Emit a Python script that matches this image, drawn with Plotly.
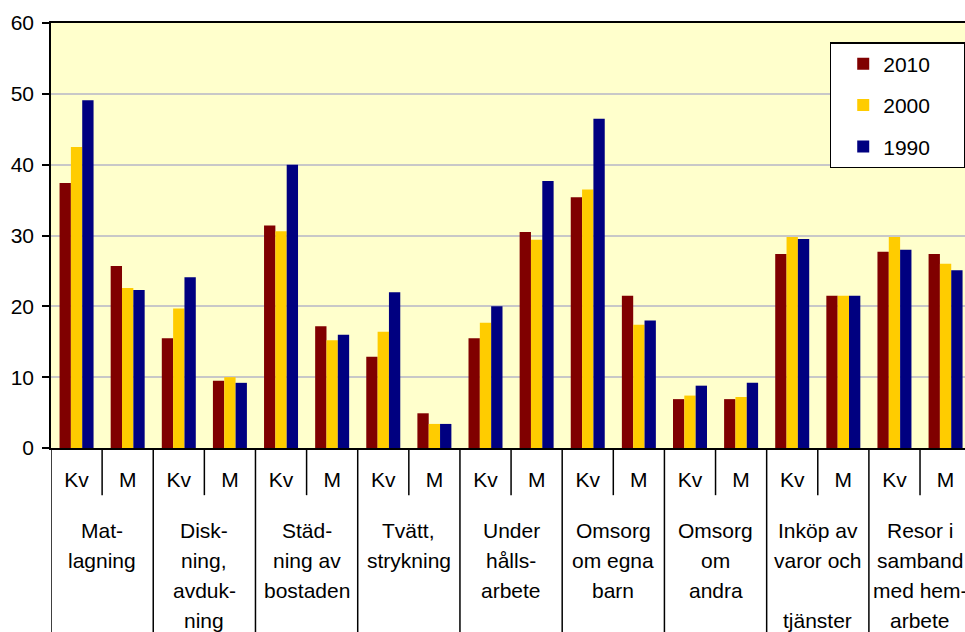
import plotly.graph_objects as go

# ---- data ----
groups = [
    "Mat-|lagning",
    "Disk-|ning,|avduk-|ning",
    "Städ-|ning av|bostaden",
    "Tvätt,|strykning",
    "Under|hålls-|arbete",
    "Omsorg|om egna|barn",
    "Omsorg|om|andra",
    "Inköp av|varor och||tjänster",
    "Resor i|samband|med hem-|arbete",
]
sexes = ["Kv", "M"]
years = ["2010", "2000", "1990"]
v2010 = [37.4, 25.7, 15.5, 9.5, 31.4, 17.2, 12.9, 4.9, 15.5, 30.5, 35.4, 21.5, 6.9, 6.9, 27.4, 21.5, 27.7, 27.4]
v2000 = [42.5, 22.6, 19.7, 10.0, 30.6, 15.2, 16.4, 3.4, 17.7, 29.4, 36.5, 17.4, 7.4, 7.2, 29.8, 21.5, 29.8, 26.0]
v1990 = [49.1, 22.3, 24.1, 9.2, 40.0, 16.0, 22.0, 3.4, 20.0, 37.7, 46.5, 18.0, 8.8, 9.2, 29.5, 21.5, 28.0, 25.1]
colors = ["#800000", "#FFCC00", "#000080"]
y_ticks = [0, 10, 20, 30, 40, 50, 60]

FONT = "Liberation Sans, Arial, sans-serif"
FS = 21
PAD = "\u00a0" * 5

keys = [f"{g.replace('|', ' ')} {s}" for g in groups for s in sexes]
sex_labels = [s for g in groups for s in sexes]

fig = go.Figure()
for name, vals, col in zip(years, [v2010, v2000, v1990], colors):
    fig.add_trace(go.Bar(
        x=keys, y=vals, name=name + PAD, legendgroup=name,
        marker=dict(color=col, line=dict(width=0)),
    ))

shapes = []
annotations = []
n_groups = len(groups)
n_sex = len(sexes)
for gi, g in enumerate(groups):
    start = gi * n_sex
    shapes.append(dict(type="line", xref="x", yref="paper",
                       x0=start - 0.5, x1=start - 0.5, y0=0, y1=-0.6,
                       line=dict(color="black", width=1.5)))
    for k in range(1, n_sex):
        shapes.append(dict(type="line", xref="x", yref="paper",
                           x0=start + k - 0.5, x1=start + k - 0.5, y0=0, y1=-0.111,
                           line=dict(color="black", width=1.5)))
    mid = start + (n_sex - 1) / 2
    for li, line in enumerate(g.split("|")):
        if line:
            annotations.append(dict(
                text=line, xref="x", yref="paper", x=mid, y=0,
                xanchor="center", yanchor="middle", yshift=-(82 + 30 * li),
                showarrow=False, font=dict(family=FONT, size=FS, color="black")))

fig.update_layout(
    width=965, height=632,
    margin=dict(l=51, r=0, t=23, b=184, autoexpand=False),
    paper_bgcolor="white",
    plot_bgcolor="#FFFFCC",
    barmode="group", bargap=0.335, bargroupgap=0,
    font=dict(family=FONT, size=FS, color="black"),
    shapes=shapes,
    annotations=annotations,
    legend=dict(
        x=0.852, y=0.955, xanchor="left", yanchor="top",
        bgcolor="white", bordercolor="black", borderwidth=1.5,
        font=dict(family=FONT, size=FS, color="black"),
        tracegroupgap=11, indentation=12,
    ),
    showlegend=True,
)
fig.update_xaxes(
    type="category", range=[-0.5, n_groups * n_sex - 0.62],
    tickmode="array", tickvals=keys, ticktext=sex_labels,
    ticks="", showgrid=False, automargin=False,
    showline=True, linecolor="black", linewidth=1.5, mirror=True,
    ticklabelstandoff=12,
    tickfont=dict(family=FONT, size=FS, color="black"),
)
fig.update_yaxes(
    range=[0, 60], tickvals=y_ticks, automargin=False,
    showgrid=True, gridcolor="#C8C8C8", gridwidth=1.5,
    showline=True, linecolor="black", linewidth=1.5,
    ticks="outside", ticklen=7, tickcolor="black", tickwidth=1.5,
    ticklabelstandoff=4,
    tickfont=dict(family=FONT, size=FS, color="black"),
    zeroline=False,
)

fig.write_html("out.html", config={"displayModeBar": False},
               post_script="document.body.style.margin='0';")
